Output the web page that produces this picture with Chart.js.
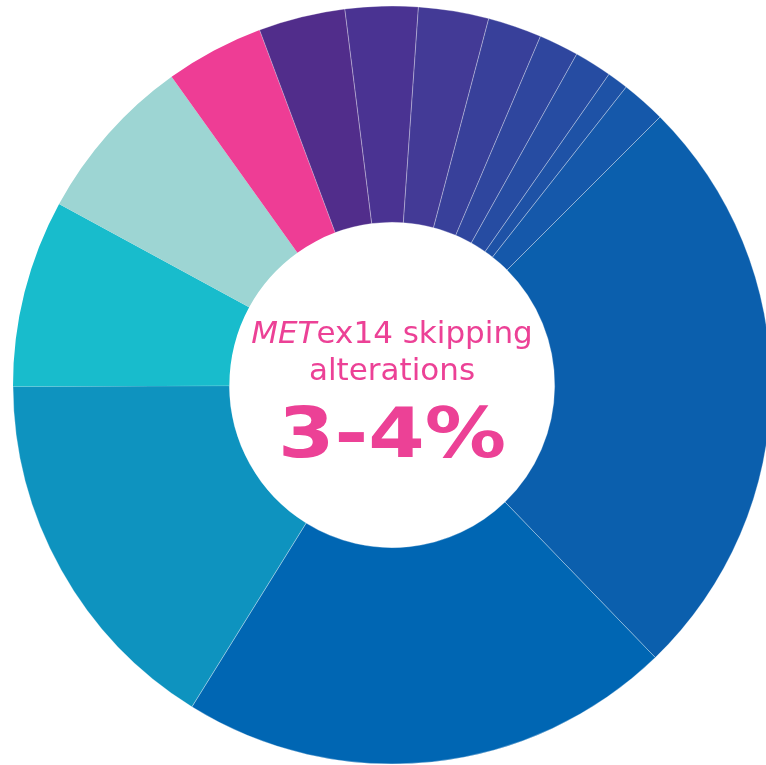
<!DOCTYPE html>
<html>
<head>
<meta charset="utf-8">
<script src="https://cdn.jsdelivr.net/npm/chart.js"></script>
<style>
  html, body { margin: 0; padding: 0; background: #fff; overflow: hidden; }
  #wrap { position: relative; width: 766px; height: 765px; overflow: hidden; }
  #chart { position: absolute; left: 0; top: 0; }
  .lbl { position: absolute; left: 192px; width: 400px; text-align: center; color: #ec4196;
         font-family: "DejaVu Sans", Verdana, sans-serif; line-height: 1; white-space: nowrap; }
  .sm { font-size: 31px; }
  .big { font-size: 70px; font-weight: bold; transform: scaleX(1.16); }
</style>
</head>
<body>
<div id="wrap">
  <canvas id="chart" width="784" height="770"></canvas>
  <div class="lbl sm" style="top:317px"><i>MET</i>ex14 skipping</div>
  <div class="lbl sm" style="top:354px">alterations</div>
  <div class="lbl big" style="top:398px">3-4%</div>
</div>
<script>
// share of each driver alteration, clockwise from the 45 degree mark
const segments = ['1', '2', '3', '4', '5', '6', '7', '8', '9', '10', '11', '12', '13', '14'];
const shares = [25.3, 21.1, 16.1, 8.0, 7.2, 4.2, 3.7, 3.1, 3.0, 2.3, 1.7, 1.6, 0.9, 1.9];
const colours = ['#0b5fad', '#0066b3', '#0e93bf', '#18bccc', '#9dd5d3', '#ee3d95', '#512d8b',
                 '#4a3392', '#433a96', '#38409a', '#2f469e', '#264ca2', '#1e52a6', '#1558aa'];
const edges = [1, 1, 1, 0, 0, 0, 1, 1, 1, 1, 1, 1, 1, 1];

new Chart(document.getElementById('chart'), {
  type: 'doughnut',
  data: {
    labels: segments,
    datasets: [{
      data: shares,
      backgroundColor: colours,
      borderColor: 'rgba(255,255,255,0.3)',
      borderWidth: edges
    }]
  },
  options: {
    responsive: false,
    animation: false,
    rotation: 45,
    radius: 379,
    cutout: 165,
    plugins: {
      legend: { display: false },
      tooltip: { enabled: false }
    }
  }
});
</script>
</body>
</html>
